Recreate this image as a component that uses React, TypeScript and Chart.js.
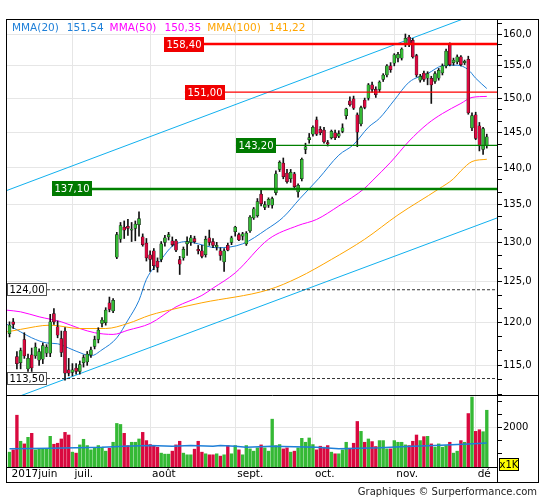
import React, { useEffect, useRef } from "react";
import { Chart, registerables } from "chart.js";

Chart.register(...registerables);

const FONT = '"DejaVu Sans", Verdana, sans-serif';

// ---- daily candles (index 0 = first session shown, mid June 2017) ----
const opens = [
  118.7, 120.1, 116.0, 115.3, 118.0, 114.6, 116.2, 116.1, 115.6, 115.7,
  116.4, 116.4, 121.1, 119.5, 118.1, 119.0, 114.5, 114.2, 114.7, 114.3,
  115.3, 115.4, 116.2, 117.2, 118.0, 119.9, 120.0, 122.4, 121.4, 128.1,
  130.4, 132.0, 132.1, 131.6, 131.8, 132.3, 130.7, 129.9, 128.4, 128.9,
  127.6, 127.8, 130.0, 130.7, 130.2, 130.2, 127.8, 128.0, 129.8, 130.0,
  130.5, 129.1, 128.9, 128.4, 130.6, 130.1, 129.4, 128.9, 127.5, 129.6,
  130.0, 131.4, 131.0, 130.8, 129.8, 131.5, 133.2, 133.5, 136.4, 134.6,
  134.9, 134.9, 136.6, 139.8, 140.7, 139.3, 138.5, 139.2, 136.7, 138.5,
  142.6, 144.0, 144.8, 146.9, 145.5, 145.4, 143.6, 144.3, 145.0, 144.5,
  145.2, 147.5, 149.7, 150.0, 147.6, 146.3, 149.8, 150.1, 152.1, 151.4,
  151.4, 152.9, 153.6, 155.0, 155.4, 156.2, 156.2, 158.3, 159.5, 159.0,
  156.6, 152.8, 153.9, 153.1, 153.1, 152.6, 153.1, 153.9, 155.0, 158.3,
  155.5, 155.6, 156.4, 155.5, 156.0, 145.7, 147.6, 146.0, 142.6, 143.2,
];
const highs = [
  120.1, 120.5, 116.6, 117.0, 118.8, 116.3, 117.0, 117.6, 116.9, 117.6,
  117.4, 121.0, 121.7, 120.2, 119.0, 119.4, 115.8, 115.2, 115.2, 115.5,
  116.2, 116.6, 117.1, 118.4, 119.4, 120.6, 121.8, 123.1, 122.9, 131.3,
  132.6, 132.8, 133.0, 132.6, 132.8, 134.0, 131.1, 130.5, 128.9, 129.2,
  128.0, 130.1, 130.9, 131.3, 130.7, 130.4, 128.2, 129.4, 130.7, 130.9,
  130.8, 129.6, 129.6, 130.8, 131.6, 130.5, 130.0, 129.3, 129.2, 129.9,
  130.8, 132.1, 131.2, 131.3, 131.4, 133.5, 134.6, 135.8, 137.0, 135.4,
  135.9, 136.0, 139.6, 141.0, 141.4, 139.8, 139.8, 139.4, 137.8, 141.4,
  143.5, 144.9, 146.0, 147.3, 145.9, 145.8, 143.9, 145.4, 145.4, 145.3,
  146.3, 148.6, 150.3, 150.4, 147.9, 148.9, 150.1, 152.3, 152.5, 151.8,
  152.7, 153.8, 155.2, 155.5, 156.9, 157.1, 157.8, 160.0, 159.8, 159.3,
  156.8, 153.7, 154.2, 154.1, 153.4, 154.1, 154.6, 155.3, 157.6, 158.6,
  156.2, 156.7, 156.6, 155.9, 156.5, 147.9, 148.0, 146.5, 145.8, 144.8,
];
const lows = [
  118.3, 119.3, 114.6, 114.6, 115.8, 114.3, 114.3, 115.8, 115.0, 115.2,
  116.0, 116.0, 119.8, 118.2, 116.0, 113.3, 113.8, 113.8, 114.0, 114.0,
  114.8, 115.0, 115.9, 116.9, 117.6, 119.5, 119.7, 121.3, 121.2, 127.9,
  130.0, 130.5, 130.9, 130.1, 130.2, 130.8, 129.5, 127.6, 126.3, 126.5,
  126.2, 127.5, 129.5, 130.3, 129.5, 128.8, 125.9, 127.7, 128.3, 129.6,
  129.9, 128.5, 128.0, 128.1, 129.6, 129.3, 129.0, 127.7, 126.3, 128.9,
  129.7, 130.8, 130.2, 130.3, 129.6, 131.3, 133.0, 133.3, 134.8, 134.3,
  134.6, 134.5, 136.3, 139.5, 138.5, 137.9, 138.0, 137.0, 136.0, 138.2,
  142.0, 143.5, 144.5, 144.6, 144.7, 143.5, 143.1, 144.1, 144.0, 144.3,
  145.0, 147.0, 148.9, 148.4, 143.0, 146.0, 148.5, 149.8, 151.0, 150.2,
  151.0, 152.6, 153.3, 154.0, 155.0, 155.6, 155.9, 158.0, 158.0, 156.2,
  153.3, 152.5, 152.6, 152.1, 149.3, 152.3, 152.8, 153.6, 154.7, 155.0,
  155.1, 155.3, 155.0, 155.2, 147.7, 145.3, 144.0, 142.4, 141.9, 142.8,
];
const closes = [
  119.7, 119.8, 115.2, 116.7, 116.1, 115.8, 114.7, 117.1, 116.6, 117.3,
  117.1, 120.1, 120.1, 118.5, 116.5, 114.1, 114.1, 114.5, 114.3, 115.1,
  115.9, 116.3, 116.8, 118.0, 119.1, 120.3, 121.5, 121.6, 122.7, 131.0,
  132.2, 131.6, 131.8, 131.7, 132.4, 133.1, 129.7, 128.0, 127.8, 127.0,
  126.8, 129.8, 130.6, 131.0, 129.7, 129.0, 127.2, 129.1, 130.1, 130.6,
  130.1, 128.9, 128.2, 130.4, 130.0, 129.6, 129.6, 128.3, 128.9, 129.0,
  130.6, 132.0, 130.3, 131.1, 131.2, 133.3, 134.4, 135.4, 135.1, 135.0,
  135.7, 135.8, 139.2, 140.8, 138.8, 138.1, 139.4, 137.4, 137.6, 141.2,
  143.0, 144.3, 145.8, 144.8, 145.0, 143.7, 143.4, 145.2, 144.3, 144.9,
  145.7, 148.5, 149.1, 148.6, 145.1, 148.7, 148.7, 152.1, 151.4, 150.6,
  152.5, 153.6, 155.0, 154.4, 156.7, 156.8, 157.6, 159.3, 158.3, 156.4,
  153.6, 153.4, 152.9, 153.8, 152.1, 153.8, 154.3, 155.0, 157.3, 155.2,
  155.9, 156.4, 155.2, 155.7, 147.9, 147.5, 144.2, 143.1, 145.6, 144.4,
];
// volume, in thousands of shares
const volumes = [
  1062, 1150, 2462, 1475, 1375, 1625, 1775, 1150, 1187, 1187,
  1187, 1662, 1362, 1400, 1562, 1812, 1712, 1062, 1025, 1337,
  1550, 1312, 1150, 1212, 1312, 1250, 1100, 1212, 1437, 2150,
  2112, 1775, 1312, 1437, 1437, 1562, 1812, 1500, 1350, 1312,
  1250, 1025, 987, 987, 1100, 1337, 1475, 1025, 962, 962,
  1175, 1475, 1062, 1000, 962, 962, 1000, 912, 962, 1312,
  1000, 1312, 1150, 962, 1312, 1187, 1100, 1225, 1337, 1225,
  1100, 2312, 1312, 1350, 1187, 1225, 1062, 1100, 1225, 1587,
  1437, 1600, 1350, 1150, 1287, 1250, 1312, 1062, 1000, 1000,
  1150, 1437, 1212, 1400, 2225, 1850, 1437, 1562, 1462, 1275,
  1500, 1500, 1187, 1187, 1500, 1437, 1437, 1337, 1312, 1475,
  1712, 1500, 1650, 1662, 1375, 1250, 1375, 1250, 1312, 1437,
  1025, 1100, 1500, 1437, 2525, 3150, 1850, 1912, 1837, 2650,
];

// ---- moving averages (session index, value) ----
const ma20Idx = [-0.7, 3, 6, 10, 13, 16, 20, 22, 25, 29, 32, 35, 37, 41, 44, 48, 51, 56, 63, 69.5, 74, 78.5, 83.5, 89, 93, 97, 100, 104, 108, 113, 117, 121, 124, 126, 129];
const ma20Val = [119.8, 118.9, 118.2, 117.6, 117.5, 117.0, 116.3, 116.1, 116.8, 118.2, 120.3, 122.7, 125.3, 127.8, 129.5, 130.1, 129.8, 129.3, 129.8, 131.7, 133.3, 135.8, 138.5, 141.8, 143.3, 145.8, 147.1, 149.8, 152.5, 153.8, 155.0, 155.1, 154.4, 153.1, 151.54];
const ma50Idx = [-0.7, 3, 8, 14, 19, 23, 28, 32, 38, 45, 52, 55, 61, 70, 78, 83, 89, 96, 98, 103, 108, 113, 117, 122, 125, 129];
const ma50Val = [121.5, 121.3, 120.7, 120.1, 119.3, 118.8, 118.6, 119.1, 119.9, 121.9, 123.3, 124.2, 126.1, 130.4, 132.2, 133.0, 134.8, 137.2, 138.2, 140.8, 143.8, 146.3, 147.8, 149.3, 150.2, 150.35];
const ma100Idx = [-0.7, 3, 11, 19, 26, 32, 38, 45, 52, 70, 78, 87, 96, 105, 116, 120, 122, 125, 129];
const ma100Val = [118.9, 119.2, 119.7, 119.3, 119.3, 119.9, 120.9, 121.7, 122.4, 124.0, 125.5, 127.8, 130.4, 133.6, 137.1, 138.5, 139.6, 140.9, 141.22];
const volMaIdx = [0, 11, 25, 31, 38, 44, 49, 55, 57, 61, 64, 71, 83, 89, 100, 109, 115, 124, 129];
const volMaVal = [1187, 1212, 1250, 1287, 1312, 1287, 1312, 1287, 1312, 1287, 1250, 1287, 1250, 1187, 1225, 1287, 1312, 1375, 1412];

// ---- trend channel ----
const upperIdx = [-0.7, 131.8];
const upperVal = [136.9, 164.5];
const lowerIdx = [-0.7, 131.8];
const lowerVal = [111.0, 133.2];

// ---- horizontal levels ----
const levelValues = [158.4, 151.0, 143.2, 137.1, 124.0, 113.5];
const levelStart = [41.8, 47.4, 61.2, 11.5, -0.7, -0.7];

// ---- axes ----
const monthIdx = [0, 17, 38, 61, 82, 104, 126];
const monthLabels = ["2017juin", "juil.", "août", "sept.", "oct.", "nov.", "dé"];
const priceTicks = [115, 120, 125, 130, 135, 140, 145, 150, 155, 160];
const volTicks = [1000, 1500, 2000, 2500, 3000];
const volLabelTicks = [2000];

const legendNames = ["MMA(20)", "MMA(50)", "MMA(100)"];

export default function App() {
  const ref = useRef<HTMLCanvasElement>(null);

  useEffect(() => {
    const canvas = ref.current;
    if (!canvas) return;

    const GREEN = "#35b935";
    const RED = "#d9093f";
    const MA20C = "#1e7fd8";
    const MA50C = "#ff00ff";
    const MA100C = "#ffa500";
    const CHAN = "#10b0ee";

    const up = closes.map((c, i) => c >= opens[i]);
    const pts = (xs: number[], ys: number[]) => xs.map((x, k) => ({ x, y: ys[k] }));

    const Y_MIN = 111.54;
    const Y_MAX = 162.41;
    const minor = priceTicks.flatMap((m) => [m - 5 / 3, m - 10 / 3]).concat([160 + 5 / 3]);
    const allPriceTicks = priceTicks.concat(minor).filter((v) => v > Y_MIN && v < Y_MAX).sort((a, b) => a - b);
    const isMajor = (v: number) => priceTicks.some((m) => Math.abs(m - v) < 1e-6);
    const fmt2 = (v: number) => v.toFixed(2).replace(".", ",");

    const levelStyles = [
      { line: "#ff0000", width: 2.5, dash: [] as number[], box: "#f00000", text: "#fff", border: "" },
      { line: "#ff0000", width: 1.2, dash: [] as number[], box: "#f00000", text: "#fff", border: "" },
      { line: "#008000", width: 1.2, dash: [] as number[], box: "#007a00", text: "#fff", border: "" },
      { line: "#008000", width: 2.5, dash: [] as number[], box: "#007a00", text: "#fff", border: "" },
      { line: "#333", width: 1, dash: [3, 2], box: "#fff", text: "#000", border: "#555" },
      { line: "#333", width: 1, dash: [3, 2], box: "#fff", text: "#000", border: "#555" },
    ];

    const overlay = {
      id: "overlay",
      afterDatasetsDraw(chart: any) {
        const { ctx, chartArea: a } = chart;
        const xs = chart.scales.x;
        const ys = chart.scales.y;
        ctx.save();
        ctx.beginPath();
        ctx.rect(a.left, ys.top, a.right - a.left, ys.bottom - ys.top);
        ctx.clip();
        levelValues.forEach((v, k) => {
          const st = levelStyles[k];
          const y = ys.getPixelForValue(v);
          const x0 = Math.max(a.left, xs.getPixelForValue(levelStart[k]));
          ctx.beginPath();
          ctx.strokeStyle = st.line;
          ctx.lineWidth = st.width;
          ctx.setLineDash(st.dash);
          ctx.moveTo(x0, y);
          ctx.lineTo(a.right, y);
          ctx.stroke();
        });
        ctx.setLineDash([]);
        ctx.font = `10px ${FONT}`;
        ctx.textAlign = "center";
        ctx.textBaseline = "middle";
        levelValues.forEach((v, k) => {
          const st = levelStyles[k];
          const y = ys.getPixelForValue(v);
          const x0 = Math.round(Math.max(a.left, xs.getPixelForValue(levelStart[k])));
          const text = fmt2(v);
          const w = Math.round(ctx.measureText(text).width + 5);
          const h = st.border ? 13 : 15;
          const top = Math.round(y - h / 2);
          ctx.fillStyle = st.box;
          ctx.fillRect(x0, top, w, h);
          if (st.border) {
            ctx.strokeStyle = st.border;
            ctx.lineWidth = 1;
            ctx.strokeRect(x0 + 0.5, top + 0.5, w - 1, h - 1);
          }
          ctx.fillStyle = st.text;
          ctx.fillText(text, x0 + w / 2, top + h / 2 + 0.5);
        });
        ctx.restore();
      },
      afterDraw(chart: any) {
        const { ctx, chartArea: a } = chart;
        const ys = chart.scales.y;
        ctx.save();
        // legend
        ctx.font = `10.5px ${FONT}`;
        ctx.textAlign = "left";
        ctx.textBaseline = "middle";
        const legendVals = [ma20Val[ma20Val.length - 1], ma50Val[ma50Val.length - 1], ma100Val[ma100Val.length - 1]];
        const legendCols = [MA20C, MA50C, MA100C];
        let lx = 12;
        legendNames.forEach((name, k) => {
          ctx.fillStyle = legendCols[k];
          ctx.fillText(name, lx, 28);
          lx += ctx.measureText(name).width + 8;
          const val = fmt2(legendVals[k]);
          ctx.fillText(val, lx, 28);
          lx += ctx.measureText(val).width + 6;
        });
        // frame
        ctx.strokeStyle = "#000";
        ctx.lineWidth = 1;
        ctx.strokeRect(6.5, a.top + 0.5, 532, 482 - a.top);
        const yd = Math.round(ys.bottom) - 0.5;
        ctx.beginPath();
        ctx.moveTo(6.5, yd);
        ctx.lineTo(538.5, yd);
        const xr = Math.round(a.right) + 0.5;
        ctx.moveTo(xr, a.top);
        ctx.lineTo(xr, 482.5);
        ctx.stroke();
        // x1K tag
        ctx.fillStyle = "#ffff00";
        ctx.fillRect(499, 458, 20, 13);
        ctx.strokeRect(499.5, 458.5, 19, 12);
        ctx.fillStyle = "#000";
        ctx.font = `10px ${FONT}`;
        ctx.textAlign = "center";
        ctx.fillText("x1K", 509, 465);
        // credit
        ctx.textAlign = "right";
        ctx.fillStyle = "#222";
        ctx.fillText("Graphiques © Surperformance.com", 537, 492);
        ctx.restore();
      },
    };

    const chart = new Chart(canvas, {
      type: "bar",
      data: {
        datasets: [
          {
            type: "line",
            data: pts(upperIdx, upperVal),
            borderColor: CHAN,
            borderWidth: 1,
            pointRadius: 0,
            yAxisID: "y",
            order: 5,
          } as any,
          {
            type: "line",
            data: pts(lowerIdx, lowerVal),
            borderColor: CHAN,
            borderWidth: 1,
            pointRadius: 0,
            yAxisID: "y",
            order: 5,
          } as any,
          {
            type: "line",
            data: pts(ma100Idx, ma100Val),
            borderColor: MA100C,
            borderWidth: 1,
            pointRadius: 0,
            cubicInterpolationMode: "monotone",
            yAxisID: "y",
            order: 4,
          } as any,
          {
            type: "line",
            data: pts(ma50Idx, ma50Val),
            borderColor: MA50C,
            borderWidth: 1,
            pointRadius: 0,
            cubicInterpolationMode: "monotone",
            yAxisID: "y",
            order: 4,
          } as any,
          {
            type: "line",
            data: pts(ma20Idx, ma20Val),
            borderColor: MA20C,
            borderWidth: 1,
            pointRadius: 0,
            cubicInterpolationMode: "monotone",
            yAxisID: "y",
            order: 4,
          } as any,
          {
            type: "bar",
            data: opens.map((_, i) => ({ x: i, y: [lows[i], highs[i]] })),
            backgroundColor: "#111",
            barThickness: 1,
            grouped: false,
            yAxisID: "y",
            order: 2,
          } as any,
          {
            type: "bar",
            data: opens.map((o, i) => ({ x: i, y: [Math.min(o, closes[i]), Math.max(o, closes[i])] })),
            backgroundColor: up.map((u) => (u ? GREEN : RED)),
            borderColor: "#111",
            borderWidth: 0.5,
            borderSkipped: false,
            barThickness: 3,
            minBarLength: 1,
            grouped: false,
            yAxisID: "y",
            order: 1,
          } as any,
          {
            type: "bar",
            data: volumes.map((v, i) => ({ x: i, y: v })),
            backgroundColor: up.map((u) => (u ? GREEN : RED)),
            barThickness: 2.7,
            grouped: false,
            yAxisID: "yv",
            order: 1,
          } as any,
          {
            type: "line",
            data: pts(volMaIdx, volMaVal),
            borderColor: MA20C,
            borderWidth: 1.5,
            pointRadius: 0,
            yAxisID: "yv",
            order: 0,
          } as any,
        ],
      },
      options: {
        responsive: false,
        animation: false,
        events: [],
        layout: { padding: { left: 7, right: 7, top: 19, bottom: 18 } },
        plugins: { legend: { display: false }, tooltip: { enabled: false } },
        scales: {
          x: {
            type: "linear",
            min: -0.68,
            max: 131.76,
            offset: false,
            grid: {
              color: (c: any) => (c.tick && c.tick.value === 0 ? "rgba(0,0,0,0)" : "#e6e6e6"),
              drawTicks: false,
              offset: false,
            },
            border: { display: true, color: "#000", width: 1 },
            ticks: {
              autoSkip: false,
              maxRotation: 0,
              align: "start",
              labelOffset: 2,
              padding: 1,
              color: "#000",
              font: { family: FONT, size: 10.5 },
              callback: (v: any) => {
                const k = monthIdx.indexOf(Number(v));
                return k >= 0 ? monthLabels[k] : "";
              },
            },
            afterBuildTicks: (s: any) => {
              s.ticks = monthIdx.map((v) => ({ value: v }));
            },
            afterFit: (s: any) => {
              s.height = 15;
            },
          },
          y: {
            type: "logarithmic",
            position: "right",
            stack: "main",
            stackWeight: 377,
            min: Y_MIN,
            max: Y_MAX,
            offset: false,
            grid: {
              color: (c: any) => (c.tick && isMajor(c.tick.value) ? "#e6e6e6" : "rgba(0,0,0,0)"),
              tickColor: "#000",
              tickLength: 5,
              drawTicks: true,
            },
            border: { display: true, color: "#000", width: 1 },
            ticks: {
              autoSkip: false,
              padding: 1,
              color: "#000",
              font: { family: FONT, size: 10 },
              callback: (v: any) => (isMajor(Number(v)) ? Number(v).toFixed(1).replace(".", ",") : ""),
            },
            afterBuildTicks: (s: any) => {
              s.ticks = allPriceTicks.map((v) => ({ value: v }));
            },
            afterFit: (s: any) => {
              s.width = 41;
            },
          },
          yv: {
            type: "linear",
            position: "right",
            stack: "main",
            stackWeight: 71,
            min: 500,
            max: 3190,
            offset: false,
            grid: {
              color: (c: any) => (c.tick && volLabelTicks.includes(c.tick.value) ? "#e6e6e6" : "rgba(0,0,0,0)"),
              tickColor: "#000",
              tickLength: 5,
              drawTicks: true,
            },
            border: { display: true, color: "#000", width: 1 },
            ticks: {
              autoSkip: false,
              padding: 1,
              color: "#000",
              font: { family: FONT, size: 10 },
              callback: (v: any) => (volLabelTicks.includes(Number(v)) ? String(v) : ""),
            },
            afterBuildTicks: (s: any) => {
              s.ticks = volTicks.map((v) => ({ value: v }));
            },
            afterFit: (s: any) => {
              s.width = 41;
            },
          },
        },
      } as any,
      plugins: [overlay],
    });

    return () => chart.destroy();
  }, []);

  return (
    <div style={{ position: "fixed", left: 0, top: 0, width: 545, height: 500, background: "#fff" }}>
      <canvas ref={ref} width={545} height={500} style={{ width: 545, height: 500, display: "block" }} />
    </div>
  );
}
